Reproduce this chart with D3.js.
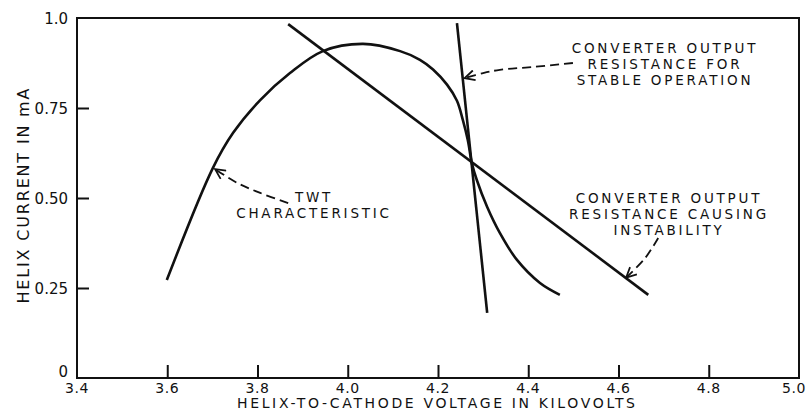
<!DOCTYPE html>
<html><head><meta charset="utf-8">
<script src="https://cdn.jsdelivr.net/npm/d3@7"></script>
<style>body{margin:0;background:#fff}svg{display:block}text{font-family:"DejaVu Sans",sans-serif;fill:#111}</style>
</head><body><svg id="c" width="811" height="412"></svg>
<script>
// Data
const twtV = [3.599, 3.701, 3.746, 3.806, 3.872, 3.945, 4.034, 4.116, 4.160, 4.189, 4.220, 4.242, 4.255, 4.266, 4.275, 4.286, 4.309, 4.337, 4.375, 4.426, 4.470];
const twtI = [0.272, 0.583, 0.681, 0.772, 0.847, 0.908, 0.928, 0.908, 0.884, 0.857, 0.815, 0.770, 0.717, 0.661, 0.597, 0.550, 0.475, 0.403, 0.328, 0.264, 0.231];
const stableV = [4.242, 4.309];
const stableI = [0.986, 0.181];
const unstableV = [3.868, 4.666];
const unstableI = [0.983, 0.231];
const xTicks = [3.4, 3.6, 3.8, 4.0, 4.2, 4.4, 4.6, 4.8, 5.0];
const xTickLabels = ["3.4", "3.6", "3.8", "4.0", "4.2", "4.4", "4.6", "4.8", "5.0"];
const yTicks = [0, 0.25, 0.5, 0.75, 1.0];
const yTickLabels = ["0", "0.25", "0.50", "0.75", "1.0"];
// annotation arrows (data units)
const arrowTwtV = [3.868, 3.806, 3.755, 3.706];
const arrowTwtI = [0.486, 0.514, 0.542, 0.580];
const arrowStableV = [4.499, 4.411, 4.337, 4.300, 4.259];
const arrowStableI = [0.875, 0.864, 0.856, 0.847, 0.833];
const arrowUnstV = [4.688, 4.659, 4.617];
const arrowUnstI = [0.389, 0.333, 0.279];

const svg = d3.select("#c");
const L = 77, R = 799, T = 18, B = 378;
const x = d3.scaleLinear().domain([3.4, 5.0]).range([L, R]);
const y = d3.scaleLinear().domain([0, 1.0]).range([B, T]);

svg.append("defs").append("marker").attr("id", "ah")
  .attr("viewBox", "0 -6 12 12").attr("refX", 11).attr("refY", 0)
  .attr("markerUnits", "userSpaceOnUse").attr("markerWidth", 12).attr("markerHeight", 12)
  .attr("orient", "auto")
  .append("path").attr("d", "M1,-5 L11,0 L1,5").attr("fill", "none").attr("stroke", "#111").attr("stroke-width", 1.8);

svg.append("rect").attr("x", L).attr("y", T).attr("width", R - L).attr("height", B - T)
  .attr("fill", "none").attr("stroke", "#111").attr("stroke-width", 2);

const xa = svg.append("g").attr("transform", `translate(0,${B})`)
  .call(d3.axisBottom(x).tickValues(xTicks.slice(1, -1)).tickSize(-13).tickFormat(""));
xa.select(".domain").remove();
xa.selectAll("line").attr("stroke", "#111").attr("stroke-width", 2);
const ya = svg.append("g").attr("transform", `translate(${L},0)`)
  .call(d3.axisLeft(y).tickValues(yTicks.slice(1, -1)).tickSize(-12).tickFormat(""));
ya.select(".domain").remove();
ya.selectAll("line").attr("stroke", "#111").attr("stroke-width", 2);

svg.selectAll(".xl").data(xTicks).enter().append("text")
  .attr("x", (d, i) => i === xTicks.length - 1 ? x(d) - 5 : x(d)).attr("y", 393)
  .attr("text-anchor", "middle").attr("font-size", 14).attr("letter-spacing", 0.5).text((d, i) => xTickLabels[i]);
svg.selectAll(".yl").data(yTicks).enter().append("text")
  .attr("x", 68).attr("y", d => d === 0 ? y(d) - 1 : y(d) + 6)
  .attr("text-anchor", "end").attr("font-size", 15).text((d, i) => yTickLabels[i]);

svg.append("text").attr("x", 436).attr("y", 408).attr("text-anchor", "middle")
  .attr("font-size", 14).attr("textLength", 398).attr("lengthAdjust", "spacing")
  .text("HELIX-TO-CATHODE VOLTAGE IN KILOVOLTS");
svg.append("text").attr("transform", "translate(29,196) rotate(-90)").attr("text-anchor", "middle")
  .attr("font-size", 16).attr("textLength", 215).attr("lengthAdjust", "spacing")
  .text("HELIX CURRENT IN mA");

const line = d3.line().x(d => x(d[0])).y(d => y(d[1]));
const twt = twtV.map((v, i) => [v, twtI[i]]);
svg.append("path").attr("d", line.curve(d3.curveCatmullRom.alpha(0.5))(twt))
  .attr("fill", "none").attr("stroke", "#111").attr("stroke-width", 2.6);
const straight = d3.line().x(d => x(d[0])).y(d => y(d[1]));
svg.append("path").attr("d", straight(stableV.map((v, i) => [v, stableI[i]])))
  .attr("fill", "none").attr("stroke", "#111").attr("stroke-width", 2.6);
svg.append("path").attr("d", straight(unstableV.map((v, i) => [v, unstableI[i]])))
  .attr("fill", "none").attr("stroke", "#111").attr("stroke-width", 2.6);

const ann = d3.line().x(d => x(d[0])).y(d => y(d[1])).curve(d3.curveCatmullRom.alpha(0.5));
[[arrowTwtV, arrowTwtI], [arrowStableV, arrowStableI], [arrowUnstV, arrowUnstI]].forEach(([vs, is]) => {
  svg.append("path").attr("d", ann(vs.map((v, i) => [v, is[i]])))
    .attr("fill", "none").attr("stroke", "#111").attr("stroke-width", 1.8)
    .attr("stroke-dasharray", "9,5").attr("marker-end", "url(#ah)");
});

function block(cx, y0, lines) {
  lines.forEach((t, i) => svg.append("text").attr("x", cx + 1).attr("y", y0 + i * 16)
    .attr("text-anchor", "middle").attr("font-size", 13.5).attr("letter-spacing", 2.8).text(t));
}
block(313, 202, ["TWT", "CHARACTERISTIC"]);
block(664, 53, ["CONVERTER OUTPUT", "RESISTANCE FOR", "STABLE OPERATION"]);
block(668, 203, ["CONVERTER OUTPUT", "RESISTANCE CAUSING", "INSTABILITY"]);
</script></body></html>
